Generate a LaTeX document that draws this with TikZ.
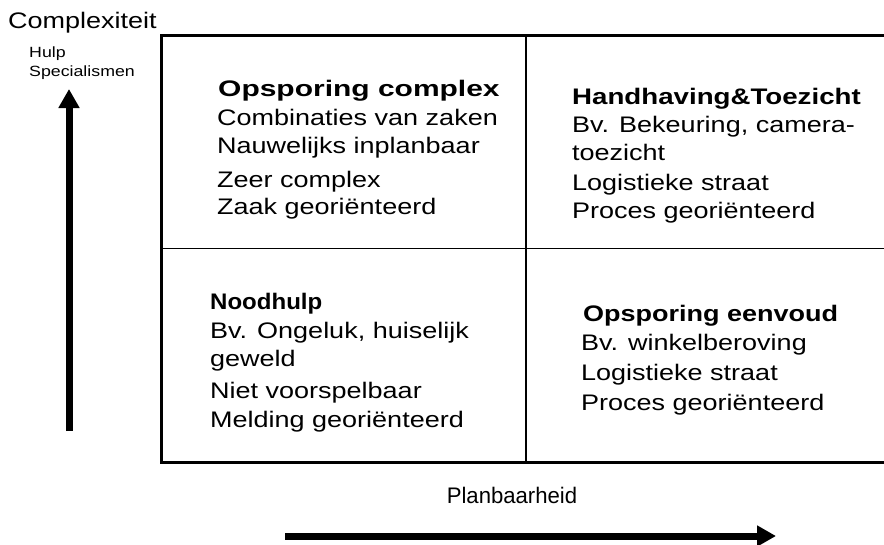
\documentclass[tikz,border=0pt]{standalone}
\usepackage{fontspec}
\usepackage{graphicx}
\setmainfont{Liberation Sans}[FakeStretch=1.2]
\usetikzlibrary{arrows.meta}
\newcommand{\hsqz}[2]{\scalebox{#1}[1]{#2}}
\tikzset{
  txt/.style={anchor=base west,inner sep=0pt,font=\fontsize{22.5}{27}\selectfont},
  hd/.style={txt,font=\fontsize{22.5}{27}\selectfont\bfseries},
  small/.style={anchor=base west,inner sep=0pt,font=\fontsize{14.8}{18}\selectfont},
  frame/.style={line width=3pt},
  divider/.style={line width=1.5pt},
  bigarrow/.style={line width=7pt,-{Triangle[length=19pt,width=20pt]}}
}
\begin{document}
\begin{tikzpicture}[x=1pt,y=-1pt]
\useasboundingbox (0,0) rectangle (884,544);
% frame
\coordinate (tl) at (161,35);
\coordinate (bl) at (161,462);
\coordinate (tr) at (890,35);
\coordinate (br) at (890,462);
\draw[frame] (tr) -- (tl) -- (bl) -- (br);
\coordinate (vt) at (526,35);
\coordinate (vb) at (526,462);
\coordinate (hl) at (161,248.5);
\coordinate (hr) at (890,248.5);
\draw[divider] (vt) -- (vb);
\draw[divider] (hl) -- (hr);
% axes labels
\node[txt] (cx) at (8,28) {Complexiteit};
\node[small] (h1) at (29,57) {Hulp};
\node[small] (h2) at (29,76) {Specialismen};
\node[txt,anchor=base] (pb) at (512,503) {\hsqz{0.82}{Planbaarheid}};
% arrows
\coordinate (va) at (69,431);
\coordinate (vz) at (69,89);
\draw[bigarrow] (va) -- (vz);
\coordinate (ha) at (285,536);
\coordinate (hz) at (776,536);
\draw[bigarrow] (ha) -- (hz);
% top left
\node[hd]  (a1) at (218,96) {\hsqz{1.11}{Opsporing complex}};
\node[txt] (a2) at (217,125) {Combinaties van zaken};
\node[txt] (a3) at (217,153) {Nauwelijks inplanbaar};
\node[txt] (a4) at (217,187) {Zeer complex};
\node[txt] (a5) at (217,214) {Zaak georiënteerd};
% top right
\node[hd]  (b1) at (572,104) {\hsqz{1.025}{Handhaving\&Toezicht}};
\node[txt] (b2) at (572,132) {Bv. Bekeuring, camera-};
\node[txt] (b3) at (572,160) {toezicht};
\node[txt] (b4) at (572,190) {Logistieke straat};
\node[txt] (b5) at (572,218) {Proces georiënteerd};
% bottom left
\node[hd]  (c1) at (210,309) {\hsqz{0.89}{Noodhulp}};
\node[txt] (c2) at (210,338) {Bv. Ongeluk, huiselijk};
\node[txt] (c3) at (210,366) {geweld};
\node[txt] (c4) at (210,398) {Niet voorspelbaar};
\node[txt] (c5) at (210,427) {Melding georiënteerd};
% bottom right
\node[hd]  (d1) at (583,321) {Opsporing eenvoud};
\node[txt] (d2) at (581,350) {Bv. winkelberoving};
\node[txt] (d3) at (581,380) {Logistieke straat};
\node[txt] (d4) at (581,410) {Proces georiënteerd};
\end{tikzpicture}
\end{document}
